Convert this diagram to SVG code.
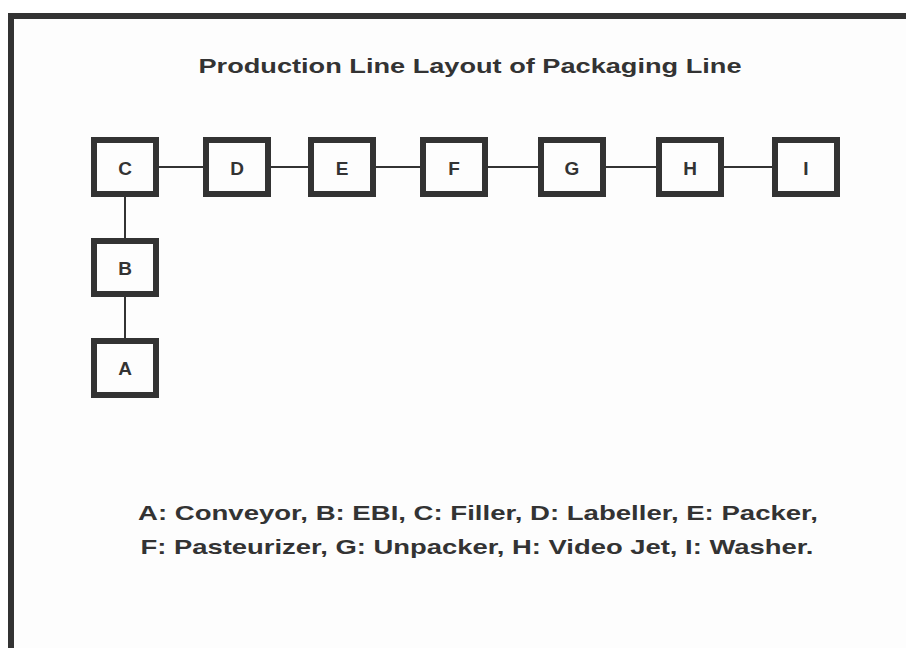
<svg xmlns="http://www.w3.org/2000/svg" width="906" height="648" viewBox="0 0 906 648">
  <style>
    .frame { fill: none; stroke: #333333; stroke-width: 6; }
    .box rect { fill: #fdfdfd; stroke: #333333; stroke-width: 6; }
    .box text { font-family: "Liberation Sans", Arial, sans-serif; font-weight: bold; font-size: 19px; fill: #333333; text-anchor: middle; }
    .link { stroke: #333333; stroke-width: 2; fill: none; }
    .title { font-family: "Liberation Sans", Arial, sans-serif; font-weight: bold; font-size: 21px; fill: #333333; text-anchor: middle; }
    .legend { font-family: "Liberation Sans", Arial, sans-serif; font-weight: bold; font-size: 21px; fill: #333333; text-anchor: middle; }
  </style>

  <rect x="0" y="0" width="906" height="648" fill="#ffffff"/>
  <rect x="14" y="19" width="892" height="629" fill="#fdfdfd"/>

  <!-- outer frame: top and left edges only -->
  <path class="frame" d="M11,648 V16 H906"/>

  <text class="title" x="470" y="73" textLength="543" lengthAdjust="spacingAndGlyphs">Production Line Layout of Packaging Line</text>

  <!-- connectors -->
  <g id="connectors">
    <line class="link" x1="159" y1="167" x2="203" y2="167"/>
    <line class="link" x1="271" y1="167" x2="308" y2="167"/>
    <line class="link" x1="376" y1="167" x2="420" y2="167"/>
    <line class="link" x1="488" y1="167" x2="538" y2="167"/>
    <line class="link" x1="606" y1="167" x2="656" y2="167"/>
    <line class="link" x1="724" y1="167" x2="772" y2="167"/>
    <line class="link" x1="125" y1="197" x2="125" y2="238"/>
    <line class="link" x1="125" y1="297" x2="125" y2="338"/>
  </g>

  <!-- stations -->
  <g id="node-C" class="box"><rect x="94" y="140" width="62" height="54"/><text x="125" y="175">C</text></g>
  <g id="node-D" class="box"><rect x="206" y="140" width="62" height="54"/><text x="237" y="175">D</text></g>
  <g id="node-E" class="box"><rect x="311" y="140" width="62" height="54"/><text x="342" y="175">E</text></g>
  <g id="node-F" class="box"><rect x="423" y="140" width="62" height="54"/><text x="454" y="175">F</text></g>
  <g id="node-G" class="box"><rect x="541" y="140" width="62" height="54"/><text x="572" y="175">G</text></g>
  <g id="node-H" class="box"><rect x="659" y="140" width="62" height="54"/><text x="690" y="175">H</text></g>
  <g id="node-I" class="box"><rect x="775" y="140" width="62" height="54"/><text x="806" y="175">I</text></g>
  <g id="node-B" class="box"><rect x="94" y="241" width="62" height="53"/><text x="125" y="275">B</text></g>
  <g id="node-A" class="box"><rect x="94" y="341" width="62" height="54"/><text x="125" y="375">A</text></g>

  <!-- key -->
  <text class="legend" x="478" y="520" textLength="680" lengthAdjust="spacingAndGlyphs">A: Conveyor, B: EBI, C: Filler, D: Labeller, E: Packer,</text>
  <text class="legend" x="477" y="554" textLength="673" lengthAdjust="spacingAndGlyphs">F: Pasteurizer, G: Unpacker, H: Video Jet, I: Washer.</text>
</svg>
